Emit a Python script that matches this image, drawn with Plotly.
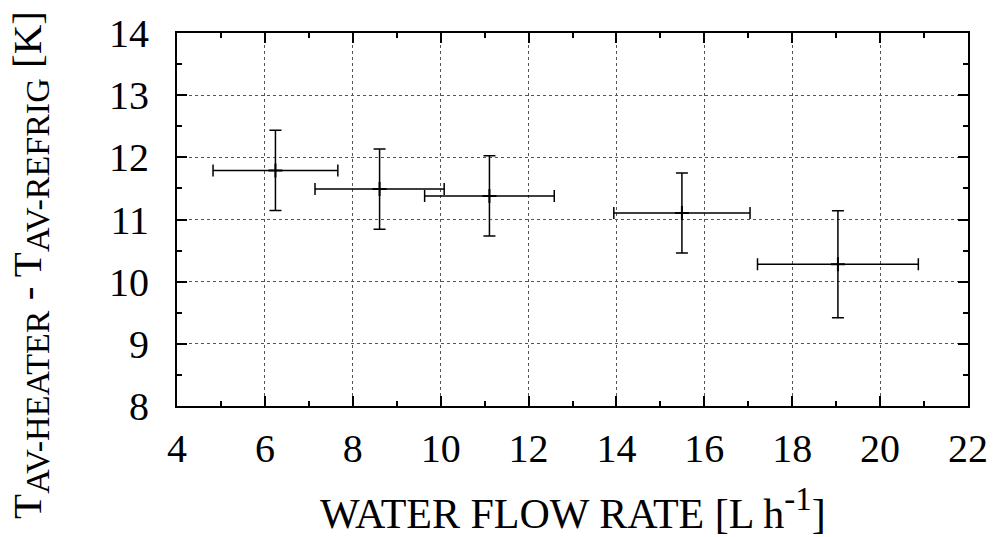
import plotly.graph_objects as go

flow_rate = [6.24, 8.61, 11.11, 15.49, 19.04]
flow_err = [1.42, 1.47, 1.475, 1.55, 1.83]
delta_t = [11.79, 11.49, 11.38, 11.105, 10.28]
delta_t_err = [0.645, 0.645, 0.645, 0.645, 0.86]

x_ticks = [4, 6, 8, 10, 12, 14, 16, 18, 20, 22]
y_ticks = [8, 9, 10, 11, 12, 13, 14]

x_title = "WATER FLOW RATE [L h<sup><span style='font-size:33px'>-1</span></sup>]"
y_title = ("T<sub><span style='font-size:34px'>AV-HEATER</span></sub> - "
           "T<sub><span style='font-size:34px'>AV-REFRIG</span></sub> [K]")

FONT = "Liberation Serif"

fig = go.Figure()
fig.add_trace(go.Scatter(
    x=flow_rate, y=delta_t, mode="markers",
    marker=dict(symbol="cross-thin-open", size=10, color="black",
                line=dict(width=2, color="black")),
    error_x=dict(type="data", array=flow_err, color="black", thickness=1.5, width=6),
    error_y=dict(type="data", array=delta_t_err, color="black", thickness=1.5, width=6),
    showlegend=False, hoverinfo="skip",
))

axis_common = dict(
    showline=True, linecolor="black", linewidth=2, mirror="allticks",
    ticks="inside", ticklen=10, tickwidth=1.5, tickcolor="black",
    showgrid=True, gridcolor="#555555", gridwidth=1, griddash="dot",
    zeroline=False, automargin=False,
    tickfont=dict(family=FONT, size=40, color="black"),
)

fig.update_xaxes(
    range=[4, 22], tickvals=x_ticks, ticktext=[str(v) for v in x_ticks],
    minor=dict(dtick=1, tick0=4, ticks="inside", ticklen=5, tickwidth=1.5,
               tickcolor="black", showgrid=False),
    ticklabelstandoff=6,
    **axis_common,
)
fig.update_yaxes(
    range=[8, 14], tickvals=y_ticks, ticktext=[str(v) for v in y_ticks],
    minor=dict(dtick=0.5, tick0=8, ticks="inside", ticklen=5, tickwidth=1.5,
               tickcolor="black", showgrid=False),
    ticklabelstandoff=18,
    **axis_common,
)

fig.add_annotation(
    text=x_title, xref="paper", yref="paper", x=0.5, y=-0.276,
    xanchor="center", yanchor="middle", showarrow=False,
    font=dict(family=FONT, size=42, color="black"),
)
fig.add_annotation(
    text=y_title, xref="paper", yref="paper", x=-0.186, y=0.378,
    xanchor="center", yanchor="middle", showarrow=False, textangle=-90,
    font=dict(family=FONT, size=41, color="black"),
)

fig.update_layout(
    width=996, height=537,
    margin=dict(l=177, r=28, t=33, b=131),
    paper_bgcolor="white", plot_bgcolor="white",
    font=dict(family=FONT, color="black"),
)

fig.write_html("out.html", config={"displayModeBar": False},
               post_script="document.body.style.margin='0';")
